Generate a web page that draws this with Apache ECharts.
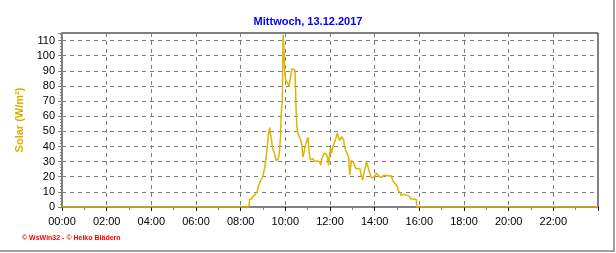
<!DOCTYPE html>
<html>
<head>
<meta charset="utf-8">
<script src="https://cdn.jsdelivr.net/npm/echarts@6/dist/echarts.min.js"></script>
<style>
html,body{margin:0;padding:0;background:#fff;}
#chart{width:616px;height:253px;}
</style>
</head>
<body>
<div id="chart"></div>
<script>
// Minutes since midnight
var times = [0, 502, 504, 510, 513, 520, 524, 527, 529, 533, 537, 540, 545, 547, 550, 553, 555, 558, 560, 563, 565, 568, 571, 573, 576, 579, 581, 584, 587, 589, 592, 594, 596, 598, 601, 604, 607, 610, 612, 615, 618, 620, 623, 626, 629, 631, 634, 639, 642, 645, 647, 650, 653, 655, 658, 661, 663, 665, 668, 674, 677, 692, 695, 698, 701, 704, 708, 710, 713, 716, 718, 721, 724, 728, 732, 734, 737, 740, 742, 746, 751, 757, 759, 762, 767, 770, 773, 775, 778, 781, 784, 786, 789, 800, 805, 808, 810, 813, 816, 818, 821, 826, 832, 835, 837, 840, 843, 845, 848, 853, 856, 859, 864, 885, 888, 891, 893, 901, 903, 909, 911, 914, 917, 919, 934, 936, 952, 953, 1440];
var solar = [0, 0, 5, 5.5, 7, 8.6, 10, 13, 14.5, 17, 19, 21, 26.5, 30.5, 36.5, 44, 48.5, 52.5, 48.5, 44, 40, 37.5, 35.5, 33, 30.5, 30.5, 32, 35.5, 46.5, 62, 71, 114, 106, 90, 84, 84, 81.5, 79.5, 83, 84, 91.5, 92.5, 90.5, 90.5, 64, 53, 48.5, 48.5, 44, 40, 33, 35.5, 40, 41, 44, 46, 40, 34, 31, 32, 30.5, 30, 27.5, 32, 32, 35.5, 36, 35, 33, 27.5, 33, 39, 35.5, 40, 41, 44, 46.5, 49, 46.5, 44, 46.5, 44, 40, 37.5, 37.5, 33, 21, 25.5, 31, 32, 29, 27.5, 25.5, 25.5, 20, 18, 21, 24.5, 27.5, 30, 27.5, 23, 19, 18, 19, 20.5, 21, 22.5, 22, 20, 19.5, 19.5, 21, 20.5, 18, 16.5, 15.5, 13.5, 11, 9, 7.5, 8, 8.5, 7.5, 7, 5.5, 5, 0, 0];
var xTickLabels = ['00:00','02:00','04:00','06:00','08:00','10:00','12:00','14:00','16:00','18:00','20:00','22:00'];
var titleText = 'Mittwoch, 13.12.2017';
var yName = 'Solar (W/m²)';
var footer = '© WsWin32 - © Heiko Blädern';

var data = times.map(function (t, i) { return [t, solar[i]]; });
var chart = echarts.init(document.getElementById('chart'), null, {renderer: 'canvas'});
var font = 'Liberation Sans, Arial, sans-serif';
chart.setOption({
  animation: false,
  backgroundColor: '#ffffff',
  title: {
    text: titleText, left: 'center', top: 11,
    textStyle: {color: '#0000ff', fontSize: 11, fontWeight: 'bold', fontFamily: font}
  },
  grid: {left: 62, right: 18, top: 33, bottom: 46, show: true, borderColor: '#000', borderWidth: 1, backgroundColor: 'transparent'},
  xAxis: [{
    type: 'value', min: 0, max: 1440, interval: 120,
    axisLine: {show: true, onZero: false, lineStyle: {color: '#808080', width: 2}},
    axisTick: {show: true, length: 4, lineStyle: {color: '#808080'}},
    minorTick: {show: true, splitNumber: 2, length: 3, lineStyle: {color: '#808080'}},
    splitLine: {show: true, lineStyle: {color: '#808080', type: [4, 4], width: 1}},
    axisLabel: {
      margin: 9, color: '#000', fontSize: 11, fontFamily: font,
      formatter: function (v) { var i = Math.round(v / 120); return (v % 120 === 0 && xTickLabels[i]) ? xTickLabels[i] : ''; }
    }
  }, {
    type: 'value', position: 'top', min: 0, max: 1440, interval: 120,
    axisLine: {show: false},
    axisTick: {show: true, inside: true, length: 4, lineStyle: {color: '#000'}},
    axisLabel: {show: false}, splitLine: {show: false}
  }],
  yAxis: {
    type: 'value', min: 0, max: 115, interval: 10,
    name: yName, nameLocation: 'middle', nameGap: 35, nameRotate: 90,
    nameTextStyle: {color: '#d9b000', fontSize: 11, fontWeight: 'bold', fontFamily: font},
    axisLine: {show: true, lineStyle: {color: '#808080', width: 2}},
    axisTick: {show: true, length: 4, lineStyle: {color: '#808080'}},
    minorTick: {show: true, splitNumber: 5, length: 2, lineStyle: {color: '#808080'}},
    splitLine: {show: true, lineStyle: {color: '#808080', type: [4, 4], width: 1}},
    axisLabel: {margin: 7, color: '#000', fontSize: 11, fontFamily: font, showMaxLabel: false,
      formatter: function (v) { return v % 10 === 0 ? String(v) : ''; }}
  },
  series: [{
    type: 'line', data: data, showSymbol: false, xAxisIndex: 0,
    lineStyle: {color: '#e0b400', width: 1.5}, itemStyle: {color: '#e0b400'},
    clip: true
  }],
  graphic: [
    {type: 'text', left: 22, top: 235, style: {text: footer, fill: '#ff0000', font: 'bold 7px ' + font}},
    {type: 'line', shape: {x1: 614, y1: 0, x2: 614, y2: 252}, style: {stroke: '#a0a0a0', lineWidth: 2}},
    {type: 'line', shape: {x1: 0, y1: 251, x2: 614, y2: 251}, style: {stroke: '#a0a0a0', lineWidth: 2}}
  ]
});
</script>
</body>
</html>
